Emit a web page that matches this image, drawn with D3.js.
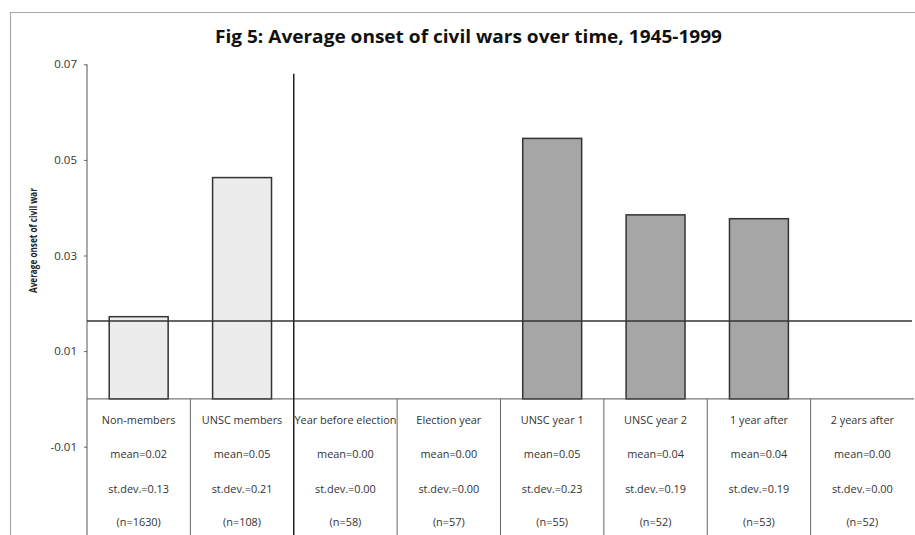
<!DOCTYPE html>
<html>
<head>
<meta charset="utf-8">
<script src="https://cdn.jsdelivr.net/npm/d3@7"></script>
<style>
  html, body { margin: 0; padding: 0; background: #fff; }
  svg { display: block; }
</style>
</head>
<body>
<div id="chart"></div>
<script>
// ---------- data ----------
const categories = ["Non-members", "UNSC members", "Year before election", "Election year",
                    "UNSC year 1", "UNSC year 2", "1 year after", "2 years after"];
const meanValues = [0.0172, 0.0463, 0, 0, 0.0545, 0.0385, 0.0377, 0];
const phase = ["overall", "overall", "term", "term", "term", "term", "term", "term"];
const meanLabels = ["mean=0.02", "mean=0.05", "mean=0.00", "mean=0.00", "mean=0.05", "mean=0.04", "mean=0.04", "mean=0.00"];
const sdLabels = ["st.dev.=0.13", "st.dev.=0.21", "st.dev.=0.00", "st.dev.=0.00", "st.dev.=0.23", "st.dev.=0.19", "st.dev.=0.19", "st.dev.=0.00"];
const nLabels = ["(n=1630)", "(n=108)", "(n=58)", "(n=57)", "(n=55)", "(n=52)", "(n=53)", "(n=52)"];
const yTicks = [0.07, 0.05, 0.03, 0.01, -0.01];
const averageLine = 0.0163;
const separatorTop = 0.068;
const titleText = "Fig 5: Average onset of civil wars over time, 1945-1999";
const yTitle = "Average onset of civil war";

// ---------- layout ----------
const W = 915, H = 535;
const svg = d3.select("#chart").append("svg").attr("width", W).attr("height", H);
const font = "'Open Sans', 'Liberation Sans', sans-serif";

// outer frame
svg.append("path").attr("d", `M10.5,${H} L10.5,12.5 L${W},12.5`)
  .attr("fill", "none").attr("stroke", "#a8a8a8").attr("stroke-width", 1.2);

const x = d3.scaleBand().domain(categories).range([87, 914]).padding(0);
const y = d3.scaleLinear().domain([-0.01, 0.07]).range([446.7, 64.3]);
const fill = d3.scaleOrdinal().domain(["overall", "term"]).range(["#ececec", "#a6a6a6"]);
const barW = x.bandwidth() * 0.57;

// title
svg.append("text").attr("x", 468.5).attr("y", 43).attr("text-anchor", "middle")
  .attr("font-family", font).attr("font-weight", "bold").attr("font-size", 18.5)
  .attr("fill", "#111").attr("textLength", 507).attr("lengthAdjust", "spacingAndGlyphs")
  .text(titleText);

// y axis title
svg.append("text").attr("transform", "translate(37,240.5) rotate(-90)")
  .attr("text-anchor", "middle").attr("font-family", font).attr("font-weight", "bold")
  .attr("font-size", 10.2).attr("fill", "#222").attr("textLength", 105)
  .attr("lengthAdjust", "spacingAndGlyphs").text(yTitle);

// y axis
const axis = d3.axisLeft(y).tickValues(yTicks).tickSize(3).tickPadding(7)
  .tickFormat(d => d.toFixed(2));
const gAxis = svg.append("g").attr("transform", "translate(87,0)").call(axis);
gAxis.select(".domain").remove();
gAxis.selectAll(".tick line").attr("stroke", "#666");
gAxis.selectAll(".tick text").attr("font-family", font).attr("font-size", 11.5).attr("fill", "#333");
svg.append("line").attr("x1", 87).attr("x2", 87).attr("y1", y(0.07)).attr("y2", H)
  .attr("stroke", "#555").attr("stroke-width", 1);

// bars
svg.append("g").selectAll("rect").data(categories.filter((c, i) => meanValues[i] > 0))
  .join("rect")
  .attr("x", c => x(c) + (x.bandwidth() - barW) / 2)
  .attr("y", c => y(meanValues[categories.indexOf(c)]))
  .attr("width", barW)
  .attr("height", c => y(0) - y(meanValues[categories.indexOf(c)]))
  .attr("fill", c => fill(phase[categories.indexOf(c)]))
  .attr("stroke", "#333").attr("stroke-width", 1.5);

// table: top line and column dividers
svg.append("line").attr("x1", 87).attr("x2", 914).attr("y1", y(0)).attr("y2", y(0))
  .attr("stroke", "#555").attr("stroke-width", 1);
svg.append("g").selectAll("line").data(categories.slice(1)).join("line")
  .attr("x1", c => x(c)).attr("x2", c => x(c))
  .attr("y1", (c, i) => i === 1 ? y(separatorTop) : y(0)).attr("y2", H)
  .attr("stroke", (c, i) => i === 1 ? "#222" : "#666")
  .attr("stroke-width", (c, i) => i === 1 ? 1.5 : 1);

// average line
svg.append("line").attr("x1", 87).attr("x2", 912).attr("y1", y(averageLine)).attr("y2", y(averageLine))
  .attr("stroke", "#333").attr("stroke-width", 1.5);

// table text
const rows = [categories, meanLabels, sdLabels, nLabels];
const rowY = [423.5, 458, 492.5, 526];
rows.forEach((row, r) => {
  svg.append("g").selectAll("text").data(row).join("text")
    .attr("x", (d, i) => x(categories[i]) + x.bandwidth() / 2)
    .attr("y", rowY[r]).attr("text-anchor", "middle")
    .attr("font-family", font).attr("font-size", 10.9).attr("fill", "#333")
    .text(d => d);
});
</script>
</body>
</html>
